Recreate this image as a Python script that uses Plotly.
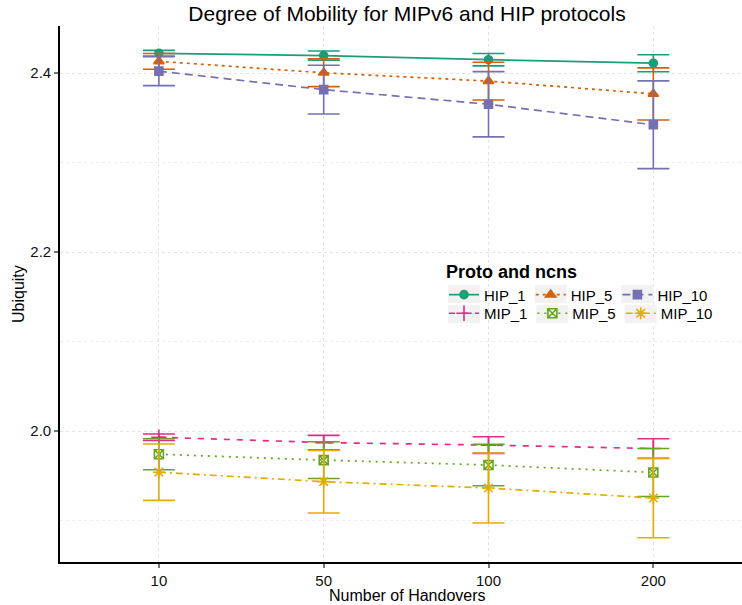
import plotly.graph_objects as go

handovers = ["10", "50", "100", "200"]

series_names = ["HIP_1", "HIP_5", "HIP_10", "MIP_1", "MIP_5", "MIP_10"]
hip_1 = [2.4223, 2.4197, 2.4151, 2.4112]
hip_1_err = [0.0032, 0.0052, 0.0069, 0.0095]
hip_5 = [2.4133, 2.4005, 2.3912, 2.3769]
hip_5_err = [0.0088, 0.0155, 0.0211, 0.0291]
hip_10 = [2.4023, 2.3817, 2.3653, 2.3424]
hip_10_err = [0.0162, 0.0272, 0.0365, 0.0490]
mip_1 = [1.9931, 1.9871, 1.9843, 1.9804]
mip_1_err = [0.0036, 0.0080, 0.0093, 0.0110]
mip_5 = [1.9741, 1.9675, 1.9620, 1.9537]
mip_5_err = [0.0173, 0.0205, 0.0231, 0.0268]
mip_10 = [1.9540, 1.9434, 1.9363, 1.9251]
mip_10_err = [0.0315, 0.0350, 0.0391, 0.0444]

values = [hip_1, hip_5, hip_10, mip_1, mip_5, mip_10]
errors = [hip_1_err, hip_5_err, hip_10_err, mip_1_err, mip_5_err, mip_10_err]
colors = ["#1B9E77", "#D95F02", "#7570B3", "#E7298A", "#66A61E", "#E6AB02"]
symbols = ["circle", "triangle-up", "square", "cross-thin-open", "square-x-open", "asterisk-open"]
msizes = [8, 9, 8, 11, 9, 10]
dashes = ["solid", "3px,4px", "8px,5px", "6px,7px", "2px,5px", "7px,4px,2px,4px"]
legend_ids = ["legend", "legend", "legend", "legend2", "legend2", "legend2"]

y_ticks = [2.0, 2.2, 2.4]
y_minor = [1.9, 2.1, 2.3]

fig = go.Figure()
for name, v, e, c, s, ms, d, lg in zip(series_names, values, errors, colors, symbols, msizes, dashes, legend_ids):
    fig.add_trace(go.Scatter(
        x=handovers, y=v, name=name, mode="lines+markers", legend=lg,
        line=dict(color=c, width=1.7, dash=d),
        marker=dict(color=c, symbol=s, size=ms, line=dict(color=c, width=1.6)),
        error_y=dict(type="data", array=e, visible=True, color=c, thickness=1.6, width=16),
    ))

fnt = "Liberation Sans, Arial, sans-serif"
PW, L = 682, 60
PH, B = 536, 43


def px_x(px):
    return (px - L) / PW


def px_y(py):
    return (605 - B - py) / PH


LEG_X = 444
LEG_FS = 15
ROW_Y = [294, 314]
# approximate Arial advance widths (em) to place grey key backgrounds
EM = {"H": 0.722, "I": 0.278, "P": 0.667, "M": 0.833, "_": 0.556,
      "0": 0.556, "1": 0.556, "5": 0.556}


def text_w(s):
    return sum(EM[ch] for ch in s) * LEG_FS


shapes = []
rows = [series_names[:3], series_names[3:]]
for ry, names in zip(ROW_Y, rows):
    x = LEG_X
    for nm in names:
        x0 = x + 4
        shapes.append(dict(type="rect", xref="paper", yref="paper",
                           x0=px_x(x0), x1=px_x(x0 + 32), y0=px_y(ry + 9), y1=px_y(ry - 9),
                           fillcolor="#f2f2f2", line=dict(width=0), layer="above"))
        x += text_w(nm) + 45

fig.update_layout(
    width=742, height=605,
    margin=dict(l=L, r=0, t=26, b=B),
    paper_bgcolor="white", plot_bgcolor="white",
    font=dict(family=fnt, size=15, color="#000000"),
    title=dict(text="Degree of Mobility for MIPv6 and HIP protocols",
               x=px_x(407), xref="paper", xanchor="center",
               y=1 - 14 / 605, yref="container", yanchor="middle",
               font=dict(family=fnt, size=21, color="#000000")),
    showlegend=True,
    legend=dict(
        orientation="h", x=px_x(LEG_X), y=px_y(255), xanchor="left", yanchor="top",
        bgcolor="rgba(0,0,0,0)",
        title=dict(text="<b>Proto and ncns</b>", side="top", font=dict(size=18)),
        font=dict(size=LEG_FS), traceorder="normal",
    ),
    legend2=dict(
        orientation="h", x=px_x(LEG_X), y=px_y(297), xanchor="left", yanchor="top",
        bgcolor="rgba(0,0,0,0)",
        font=dict(size=LEG_FS), traceorder="normal",
    ),
    shapes=shapes,
    xaxis=dict(
        type="category", range=[-0.6, 3.538],
        showline=True, linecolor="#000000", linewidth=1.6,
        ticks="outside", ticklen=4, tickwidth=1.5, tickcolor="#777777",
        showgrid=True, gridcolor="#e3e3e3", griddash="dot", gridwidth=1,
        zeroline=False, tickfont=dict(size=15, color="#111111"),
    ),
    yaxis=dict(
        range=[1.8536, 2.4528],
        tickvals=y_ticks, ticktext=[f"{t:.1f}" for t in y_ticks],
        showline=True, linecolor="#000000", linewidth=1.6,
        ticks="outside", ticklen=4, tickwidth=1.5, tickcolor="#777777",
        showgrid=True, gridcolor="#e3e3e3", griddash="dot", gridwidth=1,
        minor=dict(tickvals=y_minor, showgrid=True, gridcolor="#ececec", griddash="dot", ticklen=0),
        zeroline=False, tickfont=dict(size=15, color="#111111"),
    ),
    annotations=[
        dict(text="Number of Handovers", xref="paper", yref="paper", x=px_x(407), y=0,
             yshift=-33, showarrow=False, font=dict(size=16), xanchor="center", yanchor="middle"),
        dict(text="Ubiquity", xref="paper", yref="paper", x=0, y=0.5, xshift=-42,
             textangle=-90, showarrow=False, font=dict(size=16), xanchor="center", yanchor="middle"),
    ],
)

fig.write_html("out.html")
